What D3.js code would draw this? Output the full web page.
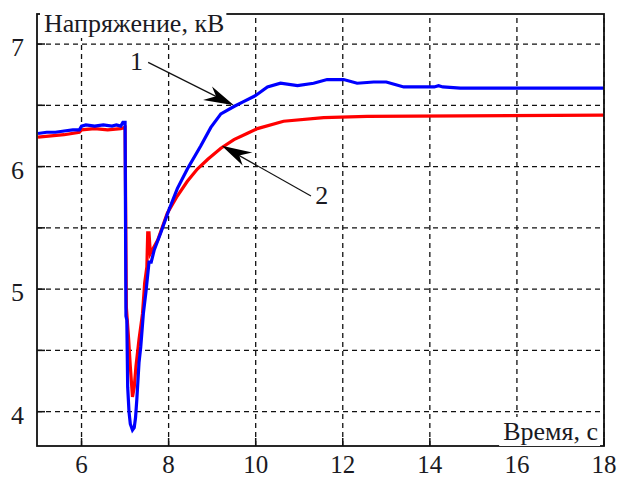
<!DOCTYPE html>
<html>
<head>
<meta charset="utf-8">
<script src="https://cdn.jsdelivr.net/npm/d3@7"></script>
<style>
    body { margin: 0; background: white; }
</style>
</head>
<body>
<div id="chart"></div>
<script>
// curve 1 (blue) and curve 2 (red), time in s, voltage in kV
const blueTime = [5.0, 5.2, 5.4, 5.6, 5.8, 5.95, 6.0, 6.1, 6.3, 6.5, 6.7, 6.8, 6.9, 6.95, 7.0,
    7.02, 7.04, 7.06, 7.09, 7.12, 7.17, 7.21, 7.24, 7.27, 7.32, 7.36, 7.42, 7.48, 7.55, 7.6,
    7.67, 7.82, 8.01, 8.2, 8.43, 8.74, 8.97, 9.2, 9.5, 9.72, 10.0, 10.27, 10.57, 10.96, 11.33,
    11.64, 12.02, 12.33, 12.71, 13.0, 13.2, 13.4, 14.1, 14.2, 14.3, 14.7, 18.0];
const blueVolt = [6.27, 6.28, 6.28, 6.29, 6.30, 6.30, 6.33, 6.34, 6.33, 6.34, 6.33, 6.34, 6.33, 6.36, 6.36,
    4.78, 4.75, 4.2, 4.0, 3.9, 3.85, 3.87, 3.95, 4.1, 4.4, 4.53, 4.8, 4.98, 5.22, 5.22,
    5.32, 5.46, 5.65, 5.82, 5.98, 6.17, 6.32, 6.43, 6.49, 6.53, 6.58, 6.65, 6.68, 6.66, 6.68,
    6.71, 6.71, 6.68, 6.69, 6.69, 6.67, 6.65, 6.65, 6.66, 6.65, 6.64, 6.64];

const redTime = [5.0, 5.3, 5.6, 5.95, 6.0, 6.3, 6.6, 6.9, 7.0, 7.03, 7.08, 7.12, 7.17, 7.21,
    7.25, 7.32, 7.4, 7.45, 7.5, 7.52, 7.55, 7.58, 7.75, 7.97, 8.2, 8.43, 8.66, 8.9, 9.2, 9.5,
    9.8, 10.04, 10.64, 11.56, 12.56, 18.0];
const redVolt = [6.24, 6.25, 6.26, 6.28, 6.30, 6.31, 6.30, 6.31, 6.32, 4.85, 4.6, 4.37, 4.12, 4.2,
    4.37, 4.59, 4.80, 5.05, 5.18, 5.46, 5.46, 5.29, 5.40, 5.62, 5.76, 5.88, 5.98, 6.06, 6.15, 6.22,
    6.27, 6.31, 6.37, 6.40, 6.41, 6.42];

const xTicks = [6, 8, 10, 12, 14, 16, 18];
const yTicks = [4, 5, 6, 7];
const yGrid = [4, 4.5, 5, 5.5, 6, 6.5, 7];

const width = 619, height = 479;
const margin = { top: 14, right: 15, bottom: 33, left: 37 };
const font = "'Liberation Serif', 'DejaVu Serif', serif";
const fontSize = 26;

let svg = d3.select("#chart").append("svg")
    .attr("width", width)
    .attr("height", height);

let x = d3.scaleLinear().domain([5, 18]).range([margin.left + 1, width - margin.right]);
let y = d3.scaleLinear().domain([3.72, 7.245]).range([height - margin.bottom, margin.top]);

// dashed grid
svg.append("g").selectAll("line")
    .data(xTicks)
    .enter().append("line")
    .attr("x1", d => x(d)).attr("x2", d => x(d))
    .attr("y1", y.range()[0]).attr("y2", y.range()[1])
    .attr("stroke", "#111").attr("stroke-width", 1.3)
    .attr("stroke-dasharray", "5,4");

svg.append("g").selectAll("line")
    .data(yGrid)
    .enter().append("line")
    .attr("y1", d => y(d)).attr("y2", d => y(d))
    .attr("x1", margin.left).attr("x2", width - margin.right)
    .attr("stroke", "#111").attr("stroke-width", 1.3)
    .attr("stroke-dasharray", "5,4");

// inner ticks
svg.append("g").selectAll("line")
    .data(xTicks)
    .enter().append("line")
    .attr("x1", d => x(d)).attr("x2", d => x(d))
    .attr("y1", y.range()[0]).attr("y2", y.range()[0] - 8)
    .attr("stroke", "#111").attr("stroke-width", 1.5);

svg.append("g").selectAll("line")
    .data(yGrid)
    .enter().append("line")
    .attr("y1", d => y(d)).attr("y2", d => y(d))
    .attr("x1", margin.left).attr("x2", margin.left + 8)
    .attr("stroke", "#111").attr("stroke-width", 1.5);

// curves
let line = d3.line()
    .x(d => x(d[0]))
    .y(d => y(d[1]));

svg.append("path")
    .datum(d3.zip(redTime, redVolt))
    .attr("d", line)
    .attr("fill", "none")
    .attr("stroke", "#ff0000")
    .attr("stroke-width", 3.2);

svg.append("path")
    .datum(d3.zip(blueTime, blueVolt))
    .attr("d", line)
    .attr("fill", "none")
    .attr("stroke", "#0000ff")
    .attr("stroke-width", 3.2);

// frame
svg.append("rect")
    .attr("x", margin.left).attr("y", margin.top)
    .attr("width", width - margin.right - margin.left)
    .attr("height", height - margin.bottom - margin.top)
    .attr("fill", "none")
    .attr("stroke", "#111")
    .attr("stroke-width", 1.8);

function addText(txt, px, py, anchor, size) {
    return svg.append("text")
        .attr("x", px).attr("y", py)
        .attr("text-anchor", anchor)
        .attr("font-family", font)
        .attr("font-size", size || fontSize)
        .attr("fill", "#1a1a22")
        .text(txt);
}

// tick labels
yTicks.forEach(d => addText(d, 24, y(d) + 12, "end"));
xTicks.forEach(d => addText(d, x(d), height - 6, "middle", 25));

// axis titles sitting on white boxes
function boxedLabel(txt, px, py, anchor) {
    let t = addText(txt, px, py, anchor);
    let b = t.node().getBBox();
    svg.insert("rect", function () { return t.node(); })
        .attr("x", b.x - 4).attr("y", b.y)
        .attr("width", b.width + 6).attr("height", b.height)
        .attr("fill", "white");
}
boxedLabel("Напряжение, кВ", 44, 32, "start");
boxedLabel("Время, с", 598, 440, "end");

// pointer arrows, in data units
const arrows = [
    { name: "1", label: [7.26, 6.86], from: [7.53, 6.85], to: [9.5, 6.5] },
    { name: "2", label: [11.52, 5.77], from: [11.27, 5.76], to: [9.22, 6.17] }
];

arrows.forEach(a => {
    let x0 = x(a.from[0]), y0 = y(a.from[1]);
    let x1 = x(a.to[0]), y1 = y(a.to[1]);
    let len = Math.hypot(x1 - x0, y1 - y0);
    let dx = (x1 - x0) / len, dy = (y1 - y0) / len;
    let nx = -dy, ny = dx;
    svg.append("line")
        .attr("x1", x0).attr("y1", y0)
        .attr("x2", x1 - dx * 15).attr("y2", y1 - dy * 15)
        .attr("stroke", "#111").attr("stroke-width", 1.2);
    let pts = [
        [x1, y1],
        [x1 - dx * 30 + nx * 9, y1 - dy * 30 + ny * 9],
        [x1 - dx * 20, y1 - dy * 20],
        [x1 - dx * 28 - nx * 7, y1 - dy * 28 - ny * 7]
    ];
    svg.append("path")
        .attr("d", "M" + pts.map(p => p.join(",")).join("L") + "Z")
        .attr("fill", "#000");
    addText(a.name, x(a.label[0]), y(a.label[1]) + 9, "middle");
});
</script>
</body>
</html>
